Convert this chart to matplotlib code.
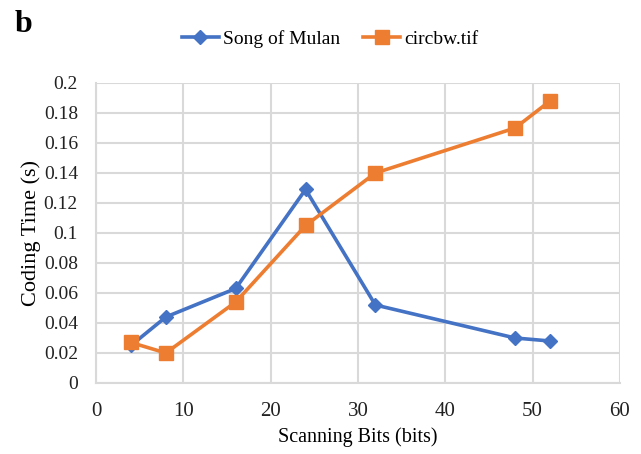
import matplotlib.pyplot as plt

bits = [4, 8, 16, 24, 32, 48, 52]
mulan = [0.025, 0.044, 0.063, 0.129, 0.052, 0.030, 0.028]
circbw = [0.027, 0.020, 0.054, 0.105, 0.140, 0.170, 0.188]

x_ticks = [0, 10, 20, 30, 40, 50, 60]
y_ticks = [0, 0.02, 0.04, 0.06, 0.08, 0.1, 0.12, 0.14, 0.16, 0.18, 0.2]
y_labels = ["0", "0.02", "0.04", "0.06", "0.08", "0.1", "0.12", "0.14", "0.16", "0.18", "0.2"]

plt.rcParams["font.family"] = ["Liberation Serif", "DejaVu Serif"]

fig = plt.figure(figsize=(6.41, 4.54), dpi=100)
ax = fig.add_axes([0.1498, 0.1564, 0.8172, 0.6608])

ax.plot(bits, mulan, color="#4472C4", linewidth=2.6, marker="D", markersize=7,
        label="Song of Mulan", zorder=3)
ax.plot(bits, circbw, color="#ED7D31", linewidth=2.6, marker="s", markersize=10,
        label="circbw.tif", zorder=3)

ax.set_xlim(0, 60)
ax.set_ylim(0, 0.2)
ax.set_xticks(x_ticks)
ax.set_yticks(y_ticks)
ax.set_yticklabels(y_labels)
ax.tick_params(length=0, colors="#222222")
ax.tick_params(axis="x", pad=14, labelsize=15)
ax.tick_params(axis="y", pad=13, labelsize=14)

ax.grid(True, color="#d9d9d9", linewidth=1.5)
ax.set_axisbelow(True)
for s in ["top", "right"]:
    ax.spines[s].set_visible(False)
for s in ["left", "bottom"]:
    ax.spines[s].set_color("#d9d9d9")
    ax.spines[s].set_linewidth(1.5)

ax.set_xlabel("Scanning Bits (bits)", fontsize=14.5, labelpad=4)
ax.set_ylabel("Coding Time (s)", fontsize=16, labelpad=2)

fig.legend(loc="center", bbox_to_anchor=(0.515, 0.914), ncol=2, frameon=False,
           fontsize=14, handlelength=1.9, columnspacing=1.2, handletextpad=0.2)

fig.text(0.023, 0.947, "b", fontsize=23, fontweight="bold", va="center")

fig.savefig("out.png", dpi=100)
